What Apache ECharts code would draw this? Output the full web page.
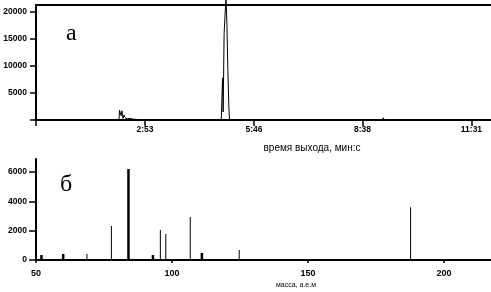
<!DOCTYPE html>
<html>
<head>
<meta charset="utf-8">
<script src="https://cdn.jsdelivr.net/npm/echarts@6/dist/echarts.min.js"></script>
<style>
  html, body { margin: 0; padding: 0; background: #fff; }
  #chart { width: 491px; height: 292px; }
</style>
</head>
<body>
<div id="chart"></div>
<script>
// chromatogram (a): retention time in seconds, total ion current
const chromTimes = [0, 131.7, 132.5, 134, 135, 136.5, 137.6, 138, 139.7, 141, 143, 144.5, 149, 154, 157,
  174.5, 175.7, 177, 294, 296, 297, 298.5, 300, 301.5, 303, 304.5, 306, 307, 549, 551, 553, 722]
const chromValues = [0, 0, 1800, 1800, 800, 1700, 1800, 300, 900, 500, 700, 200, 300, 150, 0,
  0, 300, 0, 0, 7800, 1500, 16000, 19500, 22600, 17500, 9000, 2500, 0, 0, 400, 0, 0]
const timeTicks = [0, 173, 346, 518, 691]
const timeLabels = [173, 346, 518, 691]
const intensityTicks = [0, 5000, 10000, 15000, 20000]
const intensityLabels = [5000, 10000, 15000, 20000]

// mass spectrum (б): m/z and abundance
const masses = [52, 60, 69, 78, 84, 93, 96, 98, 107, 111, 125, 188]
const abundances = [340, 410, 410, 2320, 6200, 340, 2050, 1770, 2930, 480, 680, 3600]
const boldMasses = [52, 60, 84, 93, 111]
const massTicks = [50, 100, 150, 200]
const abundanceTicks = [0, 2000, 4000, 6000]

const labelFont = {
  color: '#000',
  fontSize: 8.5,
  fontWeight: 'bold',
  fontFamily: '"Liberation Sans", Arial, sans-serif'
}
const axisLine = { show: true, lineStyle: { color: '#000', width: 2 } }
const plain = v => String(v)

const fmtTime = v => {
  const m = Math.floor(v / 60)
  const s = Math.round(v - m * 60)
  return m + ':' + (s < 10 ? '0' + s : s)
}

const thin = []; const thick = []
masses.forEach((m, i) => {
  (boldMasses.includes(m) ? thick : thin).push([m, abundances[i]])
})

const chart = echarts.init(document.getElementById('chart'))
chart.setOption({
  animation: false,
  grid: [
    { left: 36, right: 0, top: 5, height: 115, outerBoundsMode: 'none' },
    { left: 36, right: 0, top: 159, height: 101, outerBoundsMode: 'none' }
  ],
  xAxis: [
    {
      type: 'value', gridIndex: 0, min: 0, max: 722,
      axisLine,
      splitLine: { show: false },
      axisTick: { customValues: timeTicks, length: 6, lineStyle: { color: '#000', width: 1.5 } },
      axisLabel: { ...labelFont, customValues: timeLabels, margin: 5, formatter: fmtTime }
    },
    {
      type: 'value', gridIndex: 0, min: 0, max: 722, position: 'top',
      axisLine,
      splitLine: { show: false },
      axisTick: { show: false },
      axisLabel: { show: false }
    },
    {
      type: 'value', gridIndex: 1, min: 50, max: 217.3,
      axisLine,
      splitLine: { show: false },
      axisTick: { customValues: massTicks, length: 3, lineStyle: { color: '#000', width: 1.5 } },
      axisLabel: { ...labelFont, fontSize: 9, customValues: massTicks, margin: 9, formatter: plain }
    }
  ],
  yAxis: [
    {
      type: 'value', gridIndex: 0, min: 0, max: 21300,
      axisLine,
      splitLine: { show: false },
      axisTick: { customValues: intensityTicks, length: 6, lineStyle: { color: '#000', width: 1.5 } },
      axisLabel: { ...labelFont, customValues: intensityLabels, margin: 9, formatter: plain }
    },
    {
      type: 'value', gridIndex: 1, min: 0, max: 6886,
      axisLine,
      splitLine: { show: false },
      axisTick: { customValues: abundanceTicks, length: 7, lineStyle: { color: '#000', width: 1.5 } },
      axisLabel: { ...labelFont, customValues: abundanceTicks, margin: 9, formatter: plain }
    }
  ],
  series: [
    {
      type: 'line',
      xAxisIndex: 0,
      yAxisIndex: 0,
      data: chromTimes.map((t, i) => [t, chromValues[i]]),
      showSymbol: false,
      clip: false,
      lineStyle: { color: '#000', width: 1 }
    },
    {
      type: 'bar', xAxisIndex: 2, yAxisIndex: 1, data: thin,
      barWidth: 1, itemStyle: { color: '#000' }
    },
    {
      type: 'bar', xAxisIndex: 2, yAxisIndex: 1, data: thick,
      barWidth: 2.5, barGap: '-100%', itemStyle: { color: '#000' }
    }
  ],
  graphic: [
    {
      type: 'text', left: 66, top: 22,
      style: { text: 'а', font: '24px "Liberation Serif", serif', fill: '#000' }
    },
    {
      type: 'text', left: 60, top: 173,
      style: { text: 'б', font: '24px "Liberation Serif", serif', fill: '#000' }
    },
    {
      type: 'text', x: 312, y: 148,
      style: { text: 'время выхода, мин:с', font: '10px "Liberation Sans", sans-serif', fill: '#000', align: 'center', verticalAlign: 'middle' }
    },
    {
      type: 'text', x: 296, y: 285,
      style: { text: 'масса, а.е.м', font: '7px "Liberation Sans", sans-serif', fill: '#000', align: 'center', verticalAlign: 'middle' }
    }
  ]
})
</script>
</body>
</html>
